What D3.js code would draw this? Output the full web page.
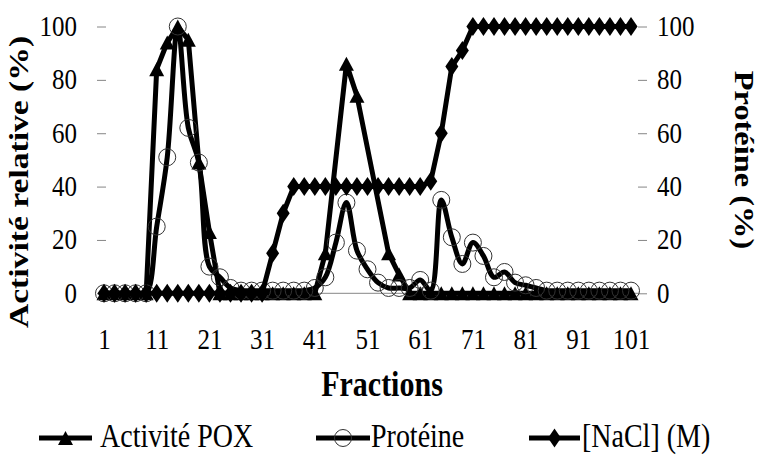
<!DOCTYPE html>
<html>
<head>
<meta charset="utf-8">
<script src="https://cdn.jsdelivr.net/npm/d3@7"></script>
<style>
  html, body { margin: 0; padding: 0; background: #fff; }
  svg { display: block; }
  svg text { font-family: "Times New Roman", "Liberation Serif", Tinos, serif !important; fill: #000; }
</style>
</head>
<body>
<svg id="chart" width="762" height="462"></svg>
<script>
// Fraction numbers (x) collected every two fractions
const fractions = [1, 3, 5, 7, 9, 11, 13, 15, 17, 19, 21, 23, 25, 27, 29, 31, 33, 35, 37, 39,
  41, 43, 45, 47, 49, 51, 53, 55, 57, 59, 61, 63, 65, 67, 69, 71, 73, 75, 77, 79,
  81, 83, 85, 87, 89, 91, 93, 95, 97, 99, 101];

// Relative peroxidase activity (%), null where no assay was made
const activitePOX = [0, 0, 0, 0, 0, 84, 94, 100, 95, 49, 23, 0, 0, 0, 0, 0, 0, 0, 0, 0,
  0, 15, null, 86, 74, null, null, 15, 7, 0, 0, 0, 0, 0, 0, 0, 0, 0, 0, 0,
  0, 0, 0, 0, 0, 0, 0, 0, 0, 0, 0];

// Protein content (%)
const proteine = [0, 0, 0, 0, 0, 25, 51, 100, 62, 49, 10, 6, 2, 1, 1, 1, 1, 1, 1, 1,
  2, 6, 19, 34, 16, 9, 4, 2, 2, 2, 5, 1, 35, 21, 11, 19, 14, 6, 8, 4,
  3, 2, 1, 1, 1, 1, 1, 1, 1, 1, 1];

// NaCl gradient, expressed as % of 1 M
const nacl = [0, 0, 0, 0, 0, 0, 0, 0, 0, 0, 0, 0, 0, 0, 0, 0, 15, 30, 40, 40,
  40, 40, 40, 40, 40, 40, 40, 40, 40, 40, 40, 42, 60, 85, 91, 100, 100, 100, 100, 100,
  100, 100, 100, 100, 100, 100, 100, 100, 100, 100, 100];

const xTicks = [1, 11, 21, 31, 41, 51, 61, 71, 81, 91, 101];
const yTicks = [0, 20, 40, 60, 80, 100];

const titles = {
  x: "Fractions",
  yLeft: "Activité relative (%)",
  yRight: "Protéine (%)"
};
const legendLabels = ["Activité POX", "Protéine", "[NaCl] (M)"];

const svg = d3.select("#chart");
const STRETCH = 1.2;          // glyphs are drawn tall and narrow
const GREY = "#868686";

const x = d3.scaleLinear().domain([1, 101]).range([104, 631]);
const y = d3.scaleLinear().domain([0, 100]).range([293.3, 26.5]);

// ---- axes ----
svg.append("line")
  .attr("x1", 100).attr("x2", 638)
  .attr("y1", y(0)).attr("y2", y(0))
  .attr("stroke", GREY).attr("stroke-width", 1);

const gx = svg.append("g")
  .attr("transform", `translate(0,${y(0)})`)
  .call(d3.axisBottom(x).tickValues(xTicks).tickSize(0).tickFormat(d3.format("d")));
gx.attr("font-family", null);
gx.select(".domain").remove();
gx.selectAll("text")
  .attr("y", null).attr("dy", null)
  .attr("transform", `translate(0,56) scale(1,${STRETCH})`)
  .style("font-size", "25px");

const gl = svg.append("g")
  .attr("transform", "translate(106,0)")
  .call(d3.axisLeft(y).tickValues(yTicks).tickSize(9).tickFormat(d3.format("d")));
gl.attr("font-family", null);
gl.select(".domain").remove();
gl.selectAll(".tick line").attr("stroke", GREY);
gl.selectAll("text")
  .attr("x", null).attr("dy", null)
  .attr("transform", `translate(-29,9) scale(1,${STRETCH})`)
  .style("font-size", "25px");

const gr = svg.append("g")
  .attr("transform", "translate(638,0)")
  .call(d3.axisRight(y).tickValues(yTicks).tickSize(9).tickFormat(d3.format("d")));
gr.attr("font-family", null);
gr.select(".domain").remove();
gr.selectAll(".tick line").attr("stroke", GREY);
gr.selectAll("text")
  .attr("x", null).attr("dy", null)
  .attr("transform", `translate(19,9) scale(1,${STRETCH})`)
  .style("font-size", "25px");

// ---- axis titles ----
svg.append("text")
  .attr("transform", `translate(382,396) scale(1,${STRETCH})`)
  .attr("text-anchor", "middle")
  .style("font-size", "30px").style("font-weight", "bold")
  .text(titles.x);

svg.append("text")
  .attr("transform", `translate(28,182) rotate(-90) scale(${STRETCH},1)`)
  .attr("text-anchor", "middle")
  .style("font-size", "28px").style("font-weight", "bold")
  .text(titles.yLeft);

svg.append("text")
  .attr("transform", `translate(735,160) rotate(90) scale(${STRETCH},1)`)
  .attr("text-anchor", "middle")
  .style("font-size", "27px").style("font-weight", "bold")
  .text(titles.yRight);

// ---- marker shapes ----
const triangle = (w, h) => `M0,${-h / 2}L${w / 2},${h / 2}L${-w / 2},${h / 2}Z`;
const diamond = (w, h) => `M0,${-h / 2}L${w / 2},0L0,${h / 2}L${-w / 2},0Z`;

const series = [
  { name: legendLabels[0], values: activitePOX, curve: d3.curveLinear, marker: "triangle" },
  { name: legendLabels[1], values: proteine, curve: d3.curveCatmullRom.alpha(0.5), marker: "circle" },
  { name: legendLabels[2], values: nacl, curve: d3.curveLinear, marker: "diamond" }
];

function drawMarker(g, type, cx, cy) {
  if (type === "circle") {
    g.append("circle").attr("cx", cx).attr("cy", cy).attr("r", 8.5)
      .attr("fill", "none").attr("stroke", "#333").attr("stroke-width", 1);
  } else if (type === "triangle") {
    g.append("path").attr("d", triangle(15, 14))
      .attr("transform", `translate(${cx},${cy})`).attr("fill", "#000");
  } else {
    g.append("path").attr("d", diamond(13, 19))
      .attr("transform", `translate(${cx},${cy})`).attr("fill", "#000");
  }
}

const plot = svg.append("g");
series.forEach(s => {
  const pts = fractions.map((f, i) => ({ f, v: s.values[i] })).filter(d => d.v !== null);
  const line = d3.line().x(d => x(d.f)).y(d => y(d.v)).curve(s.curve);
  const g = plot.append("g");
  g.append("path").attr("d", line(pts))
    .attr("fill", "none").attr("stroke", "#000").attr("stroke-width", 5)
    .attr("stroke-linejoin", "round");
  pts.forEach(d => drawMarker(g, s.marker, x(d.f), y(d.v)));
});

// ---- legend ----
const legendItems = [
  { x0: 39, x1: 92, tx: 100 },
  { x0: 316, x1: 370, tx: 371 },
  { x0: 529, x1: 580, tx: 582 }
];
const legend = svg.append("g");
series.forEach((s, i) => {
  const it = legendItems[i];
  const ly = 438;
  legend.append("line").attr("x1", it.x0).attr("x2", it.x1).attr("y1", ly).attr("y2", ly)
    .attr("stroke", "#000").attr("stroke-width", 5);
  drawMarker(legend, s.marker, (it.x0 + it.x1) / 2, ly);
  legend.append("text")
    .attr("transform", `translate(${it.tx},${ly + 9}) scale(1,${STRETCH})`)
    .style("font-size", "28px")
    .text(s.name);
});
</script>
</body>
</html>
